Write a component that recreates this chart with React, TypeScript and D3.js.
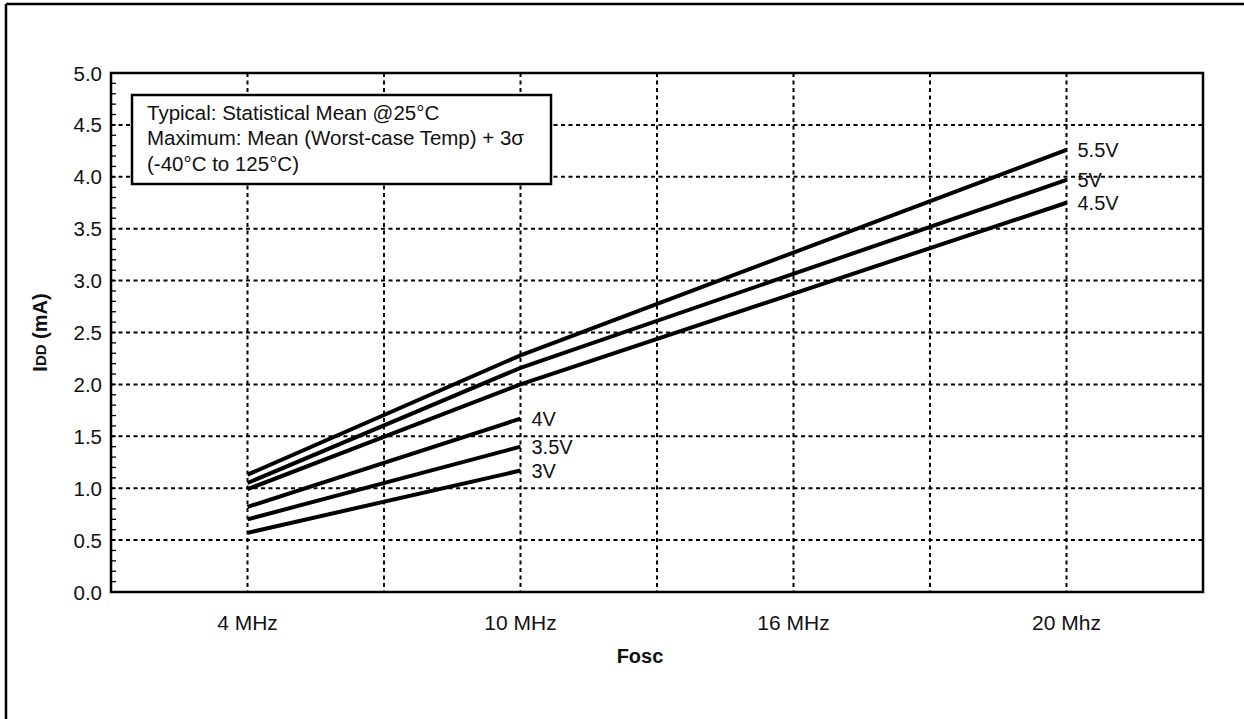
import React from "react";
import * as d3 from "d3";

const categories = ["4 MHz", "10 MHz", "16 MHz", "20 Mhz"];
const yTicks = [0, 0.5, 1.0, 1.5, 2.0, 2.5, 3.0, 3.5, 4.0, 4.5, 5.0];
const seriesLabels = ["5.5V", "5V", "4.5V", "4V", "3.5V", "3V"];
const s55 = [1.13, 2.28, null, 4.26];
const s50 = [1.05, 2.16, null, 3.97];
const s45 = [0.99, 2.0, null, 3.75];
const s40 = [0.82, 1.67, null, null];
const s35 = [0.7, 1.4, null, null];
const s30 = [0.57, 1.17, null, null];
const seriesValues = [s55, s50, s45, s40, s35, s30];
const noteLines = [
  "Typical: Statistical Mean @25°C",
  "Maximum: Mean (Worst-case Temp) + 3σ",
  "(-40°C to 125°C)",
];

const W = 1244;
const H = 719;
const L = 111, R = 1203, T = 73, B = 592;
const FONT = "Liberation Sans, Arial, sans-serif";

export default function App() {
  const x = d3.scaleBand<string>().domain(categories).range([L, R]).paddingInner(0).paddingOuter(0);
  const y = d3.scaleLinear().domain([0, 5]).range([B, T]);
  const bw = x.bandwidth();
  const cx = (c: string) => (x(c) as number) + bw / 2;
  const line = d3.line<[number, number]>().x((d) => d[0]).y((d) => d[1]);

  const vGrid: number[] = [];
  categories.forEach((c, i) => {
    vGrid.push(cx(c));
    if (i > 0) vGrid.push(x(c) as number);
  });
  const minor = d3.range(0, 50).map((i) => i / 10);

  return (
    <svg width={W} height={H} style={{ position: "absolute", left: 0, top: 0, background: "#fff" }} fontFamily={FONT}>
      <rect x={0} y={0} width={W} height={H} fill="#fff" />
      {/* outer frame */}
      <line x1={6} y1={4} x2={W + 5} y2={4} stroke="#000" strokeWidth={2.5} />
      <line x1={6} y1={4} x2={6} y2={H + 5} stroke="#000" strokeWidth={2.5} />

      {/* grid */}
      {yTicks.filter((t) => t > 0 && t < 5).map((t) => (
        <line key={"h" + t} x1={L} x2={R} y1={y(t)} y2={y(t)} stroke="#000" strokeWidth={2} strokeDasharray="4,3.5" />
      ))}
      {vGrid.map((gx, i) => (
        <line key={"v" + i} x1={gx} x2={gx} y1={T} y2={B} stroke="#000" strokeWidth={2} strokeDasharray="4,3.5" />
      ))}

      {/* minor ticks */}
      {minor.map((m, i) => (
        <line key={"m" + i} x1={L} x2={L + 5} y1={y(m)} y2={y(m)} stroke="#000" strokeWidth={1.3} />
      ))}

      {/* plot border */}
      <rect x={L} y={T} width={R - L} height={B - T} fill="none" stroke="#000" strokeWidth={2.5} />

      {/* y tick labels */}
      {yTicks.map((t) => (
        <text key={"yl" + t} x={L - 9} y={y(t)} textAnchor="end" dominantBaseline="central" fontSize={20.5} fill="#111">
          {t.toFixed(1)}
        </text>
      ))}
      {/* x tick labels */}
      {categories.map((c) => (
        <text key={"xl" + c} x={cx(c)} y={622} textAnchor="middle" dominantBaseline="central" fontSize={21} fill="#111">
          {c}
        </text>
      ))}

      {/* axis titles */}
      <text x={640} y={656} textAnchor="middle" dominantBaseline="central" fontSize={20} fontWeight="bold" fill="#111">
        Fosc
      </text>
      <text transform={`translate(40, ${(T + B) / 2}) rotate(-90)`} textAnchor="middle" dominantBaseline="central" fontSize={20} fontWeight="bold" fill="#111">
        I<tspan fontSize={15}>DD</tspan> (mA)
      </text>

      {/* series */}
      {seriesValues.map((vals, si) => {
        const pts: [number, number][] = [];
        vals.forEach((v, i) => {
          if (v != null) pts.push([cx(categories[i]), y(v)]);
        });
        const last = pts[pts.length - 1];
        return (
          <g key={"s" + si}>
            <path d={line(pts) || ""} fill="none" stroke="#000" strokeWidth={4} />
            <text x={last[0] + 11} y={last[1]} dominantBaseline="central" fontSize={20} fill="#111">
              {seriesLabels[si]}
            </text>
          </g>
        );
      })}

      {/* note box */}
      <rect x={132} y={95} width={419} height={89} fill="#fff" stroke="#000" strokeWidth={2.5} />
      {noteLines.map((t, i) => (
        <text key={"n" + i} x={147} y={112 + i * 25.5} dominantBaseline="central" fontSize={20.5} fill="#111">
          {t}
        </text>
      ))}
    </svg>
  );
}
